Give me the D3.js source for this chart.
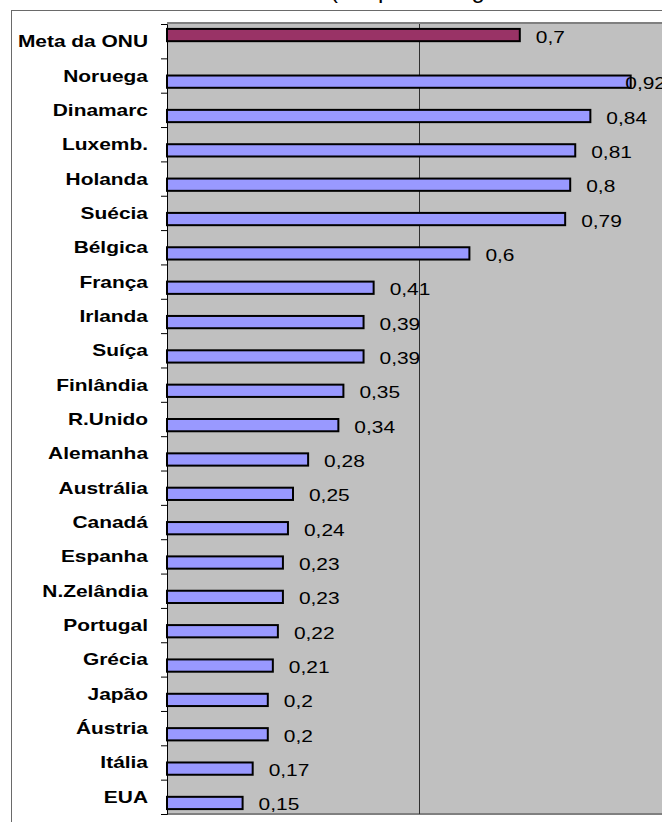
<!DOCTYPE html>
<html>
<head>
    <script src="https://cdn.jsdelivr.net/npm/d3@7"></script>
    <style>
        body { margin: 0; background: #fff; }
        text { font-family: "Liberation Sans", Arial, sans-serif; }
    </style>
</head>
<body>
    <script>
        // categories top to bottom (first row is the UN target)
        var categorias = ["Meta da ONU", "Noruega", "Dinamarc", "Luxemb.", "Holanda", "Suécia", "Bélgica",
            "França", "Irlanda", "Suíça", "Finlândia", "R.Unido", "Alemanha", "Austrália", "Canadá",
            "Espanha", "N.Zelândia", "Portugal", "Grécia", "Japão", "Áustria", "Itália", "EUA"];

        // series 1: UN target, series 2: countries
        var metaONU = [0.7];
        var valoresPaises = [0.92, 0.84, 0.81, 0.8, 0.79, 0.6, 0.41, 0.39, 0.39, 0.35, 0.34, 0.28,
            0.25, 0.24, 0.23, 0.23, 0.22, 0.21, 0.2, 0.2, 0.17, 0.15];

        var titulo = "Assistência Oficial ao Desenvolvimento (em percentagem do Rendimento Nacional Bruto)";

        var width = 662, height = 822;
        var plotLeft = 167, plotTop = 24, plotBottom = 814;
        var stretch = 1.23; // the picture's text is wider than plain Arial

        // build the rows: each category gets a value in one of two series
        var linhas = categorias.map(function(c, i) {
            return i === 0 ? { cat: c, serie: "meta", v: metaONU[0] } :
                { cat: c, serie: "pais", v: valoresPaises[i - 1] };
        });

        var fmt = d3.formatLocale({ decimal: ",", thousands: ".", grouping: [3], currency: ["", ""] }).format("~g");

        var x = d3.scaleLinear().domain([0, 1]).range([plotLeft, 671]);
        var y = d3.scaleBand().domain(categorias).range([plotTop, plotBottom]).padding(0);
        var ySub = d3.scaleBand().domain(["meta", "pais"]).range([0, y.bandwidth()]).paddingInner(0).paddingOuter(0.4);

        var svg = d3.select("body").append("svg").attr("width", width).attr("height", height);

        // outer chart frame
        svg.append("rect").attr("x", 11.5).attr("y", 10.5).attr("width", 700).attr("height", 900)
            .attr("fill", "#fff").attr("stroke", "#6a6a6a");

        // title, mostly cut off at the top
        var t = svg.append("text").attr("x", 0).attr("y", -2).attr("font-size", 24).attr("fill", "#000").text(titulo);
        var pos = t.node().getStartPositionOfChar(titulo.indexOf("("));
        t.attr("x", 330 - pos.x);

        // plot area
        svg.append("rect").attr("x", plotLeft).attr("y", plotTop - 1).attr("width", 600).attr("height", plotBottom - plotTop + 1)
            .attr("fill", "#c0c0c0");
        svg.append("line").attr("x1", plotLeft).attr("x2", width).attr("y1", plotTop - 1).attr("y2", plotTop - 1)
            .attr("stroke", "#808080").attr("stroke-width", 2);
        svg.append("line").attr("x1", plotLeft).attr("x2", width).attr("y1", plotBottom).attr("y2", plotBottom)
            .attr("stroke", "#808080").attr("stroke-width", 2);

        // vertical gridlines
        svg.append("g").selectAll("line").data([0.5, 1]).enter().append("line")
            .attr("x1", function(d) { return x(d) + 0.5; }).attr("x2", function(d) { return x(d) + 0.5; })
            .attr("y1", plotTop).attr("y2", plotBottom)
            .attr("stroke", "#303030").attr("stroke-width", 1);

        // bars
        svg.append("g").selectAll("rect").data(linhas).enter().append("rect")
            .attr("x", x(0))
            .attr("y", function(d) { return y(d.cat) + ySub(d.serie); })
            .attr("width", function(d) { return x(d.v) - x(0); })
            .attr("height", ySub.bandwidth())
            .attr("fill", function(d) { return d.serie === "meta" ? "#993366" : "#9999ff"; })
            .attr("stroke", "#000").attr("stroke-width", 2);

        // left axis with ticks between categories
        var yIdx = d3.scaleLinear().domain([0, categorias.length]).range([plotTop, plotBottom]);
        svg.append("g").attr("transform", "translate(" + plotLeft + ",0)")
            .call(d3.axisLeft(yIdx).ticks(categorias.length).tickFormat("").tickSize(6).tickSizeOuter(6))
            .call(function(g) {
                g.selectAll("line").attr("stroke", "#000");
                g.select(".domain").attr("stroke", "#000");
            });

        // category labels
        svg.append("g").selectAll("text").data(categorias).enter().append("text")
            .attr("transform", function(d) {
                return "translate(148," + (y(d) + y.bandwidth() / 2 + 6) + ") scale(" + stretch + ",1)";
            })
            .attr("text-anchor", "end").attr("font-size", 17).attr("font-weight", "bold")
            .text(function(d) { return d; });

        // value labels
        svg.append("g").selectAll("text").data(linhas).enter().append("text")
            .attr("font-size", 17).attr("fill", "#000")
            .text(function(d) { return fmt(d.v); })
            .attr("transform", function(d) {
                var w = this.getComputedTextLength() * stretch;
                var lx = Math.min(x(d.v) + 16, 666 - w);
                var ly = y(d.cat) + ySub(d.serie) + ySub.bandwidth() / 2 + 7.5;
                return "translate(" + lx + "," + ly + ") scale(" + stretch + ",1)";
            });
    </script>
</body>
</html>
